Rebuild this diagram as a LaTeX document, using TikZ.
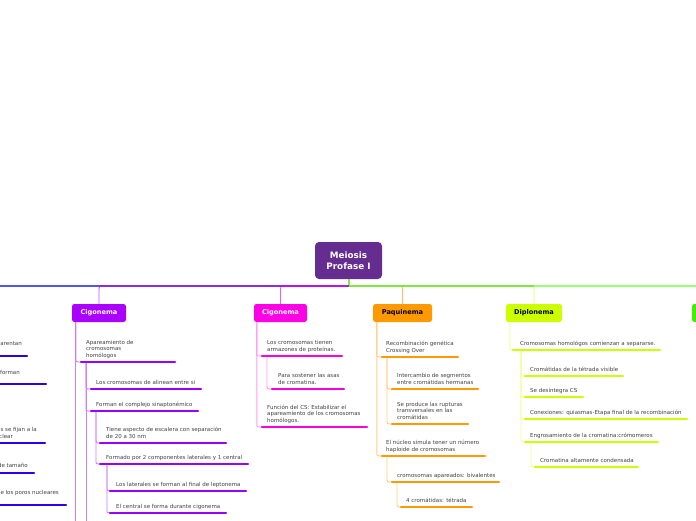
\documentclass[tikz,border=0pt]{standalone}
\usepackage{fontspec}
\setmainfont{DejaVu Sans}
\usetikzlibrary{calc}
\definecolor{txtc}{HTML}{404040}
\definecolor{cPu}{HTML}{9B00FF}\definecolor{cPl}{HTML}{CC80FF}
\definecolor{cMu}{HTML}{FF00DC}\definecolor{cMl}{HTML}{FF99EE}
\definecolor{cOu}{HTML}{FF9900}\definecolor{cOl}{HTML}{FFCC88}
\definecolor{cDu}{HTML}{CCFF00}\definecolor{cDl}{HTML}{EEFF99}
\definecolor{cBu}{HTML}{2A00EE}
\definecolor{fCig}{HTML}{AA00FF}\definecolor{fCigM}{HTML}{FF00E6}
\definecolor{fPaq}{HTML}{FF9900}\definecolor{fDip}{HTML}{CCFF00}
\definecolor{fNext}{HTML}{44EE00}\definecolor{fCen}{HTML}{662D91}
\definecolor{hBlue}{HTML}{4F56F2}\definecolor{hPur}{HTML}{8A2BE8}
\definecolor{hMag}{HTML}{BB11EE}\definecolor{hGrn}{HTML}{80E83C}
\definecolor{hLgr}{HTML}{99FF77}
\definecolor{tPu}{HTML}{BB55FF}\definecolor{tMa}{HTML}{FF55EE}
\definecolor{tOr}{HTML}{FFBB55}\definecolor{tDi}{HTML}{DDFF44}
\newcommand\itemfont{\fontsize{5.5}{6.5}\selectfont}
\newcommand\bnfont{\fontsize{6.6}{8}\selectfont\bfseries}
\newcommand\cnfont{\fontsize{8.8}{11.5}\selectfont\bfseries}
\newcommand\tb[1]{\begin{tabular}{@{}l@{}}#1\end{tabular}}
\newcommand\linkto[4]{\draw[#1] let \p1=($(#2)+(#3,0)$), \p2=(#4) in (\x1,\y1) -- (\x1,{\y2+4pt}) .. controls (\x1,\y2) .. (\x2,\y2);}
\begin{document}
\begin{tikzpicture}[x=1pt,y=-1pt,
  item/.style={anchor=south west, inner sep=0pt, font=\itemfont, text=txtc},
  frag/.style={anchor=base east, inner sep=0pt, font=\itemfont, text=txtc},
  bnode/.style={rounded corners=2.5pt, minimum height=18pt, inner sep=0pt, font=\bnfont},
  ul/.style={line width=2.4pt, line cap=round},
  conn/.style={line width=0.9pt},
  hline/.style={line width=1.6pt}]
\useasboundingbox (0,0) rectangle (696,520);
\clip (0,0) rectangle (696,520);

% central node
\node[fill=fCen, rounded corners=4pt, minimum width=67pt, minimum height=37pt, inner sep=0pt,
      font=\cnfont, text=white, align=center] (cen) at (348.5,260.5) {Meiosis\\Profase I};

% branch nodes
\node[bnode, fill=fCig, text=white, minimum width=54pt] (cig1) at (99,313) {Cigonema};
\node[bnode, fill=fCigM, text=white, minimum width=53pt] (cig2) at (280.5,313) {Cigonema};
\node[bnode, fill=fPaq, text=black, minimum width=59pt] (paq) at (402.5,313) {Paquinema};
\node[bnode, fill=fDip, text=black, minimum width=56pt] (dip) at (534,313) {Diplonema};
\node[bnode, fill=fNext, minimum width=56pt] (nxt) at (720,313) {};

% main horizontal line
\coordinate (h) at (349,286);
\coordinate (hW) at (0,286);
\coordinate (hE) at (696,286);
\draw[conn, tPu] ($(cig1.north |- h)+(5,0)$) .. controls (cig1.north |- h) .. ($(cig1.north |- h)+(0,5)$) -- (cig1.north);
\draw[conn, tMa] ($(cig2.north |- h)+(5,0)$) .. controls (cig2.north |- h) .. ($(cig2.north |- h)+(0,5)$) -- (cig2.north);
\draw[conn, tOr] ($(paq.north |- h)+(-5,0)$) .. controls (paq.north |- h) .. ($(paq.north |- h)+(0,5)$) -- (paq.north);
\draw[conn, tDi] ($(dip.north |- h)+(-5,0)$) .. controls (dip.north |- h) .. ($(dip.north |- h)+(0,5)$) -- (dip.north);
\draw[hline, hGrn] (cen.south -| h) -- (h);
\draw[hline, hBlue] (hW) -- (cig1.north |- h);
\draw[hline, hPur] (cig1.north |- h) -- (cig2.north |- h);
\draw[hline, hMag] (cig2.north |- h) -- (h);
\draw[hline, hGrn] (h) -- (dip.north |- h);
\draw[hline, hLgr] (dip.north |- h) -- (hE);

% ---------- purple Cigonema branch ----------
\coordinate (a1) at (81,362);
\coordinate (a2) at (91,389);
\coordinate (a3) at (91,411);
\coordinate (a4) at (100,443);
\coordinate (a5) at (100,464);
\coordinate (a6) at (110,491);
\coordinate (a7) at (110,513);
\draw[conn, cPl] ($(cig1.south west)+(4,0)$) -- ++(0,220);
\draw[conn, cPl] ($(a1)+(5,0)$) -- ++(0,180);
\linkto{conn, cPl}{cig1.south west}{4}{a1}
\linkto{conn, cPl}{a1}{5}{a2}
\linkto{conn, cPl}{a1}{5}{a3}
\linkto{conn, cPl}{a3}{5}{a4}
\linkto{conn, cPl}{a3}{5}{a5}
\linkto{conn, cPl}{a5}{7}{a6}
\linkto{conn, cPl}{a5}{7}{a7}
\draw[ul, cPu] (a1) -- ++(94,0);
\draw[ul, cPu] (a2) -- ++(110,0);
\draw[ul, cPu] (a3) -- ++(107,0);
\draw[ul, cPu] (a4) -- ++(126,0);
\draw[ul, cPu] (a5) -- ++(148,0);
\draw[ul, cPu] (a6) -- ++(136,0);
\draw[ul, cPu] (a7) -- ++(116,0);
\node[item] (ta1) at ($(a1)+(5,-2.6)$) {\tb{Apareamiento de\\cromosomas\\homólogos}};
\node[item] (ta2) at ($(a2)+(5,-2.6)$) {\tb{Los cromosomas de alinean entre si}};
\node[item] (ta3) at ($(a3)+(5,-2.6)$) {\tb{Forman el complejo sinaptonémico}};
\node[item] (ta4) at ($(a4)+(6,-2.6)$) {\tb{Tiene aspecto de escalera con separación\\de 20 a 30 nm}};
\node[item] (ta5) at ($(a5)+(6,-2.6)$) {\tb{Formado por 2 componentes laterales y 1 central}};
\node[item] (ta6) at ($(a6)+(6,-2.6)$) {\tb{Los laterales se forman al final de leptonema}};
\node[item] (ta7) at ($(a7)+(6,-2.6)$) {\tb{El central se forma durante cigonema}};

% ---------- magenta Cigonema branch ----------
\coordinate (b1) at (262,356);
\coordinate (b2) at (272,389);
\coordinate (b3) at (262,427);
\linkto{conn, cMl}{cig2.south west}{3}{b1}
\linkto{conn, cMl}{b1}{5}{b2}
\linkto{conn, cMl}{cig2.south west}{3}{b3}
\draw[ul, cMu] (b1) -- ++(80,0);
\draw[ul, cMu] (b2) -- ++(72,0);
\draw[ul, cMu] (b3) -- ++(105,0);
\node[item] (tb1) at ($(b1)+(5,-2.6)$) {\tb{Los cromosomas tienen\\armazones de proteínas.}};
\node[item] (tb2) at ($(b2)+(6,-2.6)$) {\tb{Para sostener las asas\\de cromatina.}};
\node[item] (tb3) at ($(b3)+(5,-2.6)$) {\tb{Función del CS: Estabilizar el\\apareamiento de los cromosomas\\homólogos.}};

% ---------- Paquinema branch ----------
\coordinate (c1) at (382,357);
\coordinate (c2) at (392,389);
\coordinate (c3) at (392,424);
\coordinate (c4) at (382,456);
\coordinate (c5) at (392,482);
\coordinate (c6) at (401,507);
\linkto{conn, cOl}{paq.south west}{4}{c1}
\linkto{conn, cOl}{c1}{5}{c2}
\linkto{conn, cOl}{c1}{5}{c3}
\linkto{conn, cOl}{paq.south west}{4}{c4}
\linkto{conn, cOl}{c4}{5}{c5}
\linkto{conn, cOl}{c5}{5}{c6}
\draw[ul, cOu] (c1) -- ++(76,0);
\draw[ul, cOu] (c2) -- ++(86,0);
\draw[ul, cOu] (c3) -- ++(76,0);
\draw[ul, cOu] (c4) -- ++(103,0);
\draw[ul, cOu] (c5) -- ++(107,0);
\draw[ul, cOu] (c6) -- ++(71,0);
\node[item] (tc1) at ($(c1)+(4,-2.6)$) {\tb{Recombinación genética\\Crossing Over}};
\node[item] (tc2) at ($(c2)+(5,-2.6)$) {\tb{Intercambio de segmentos\\entre cromátidas hermanas}};
\node[item] (tc3) at ($(c3)+(5,-2.6)$) {\tb{Se produce las rupturas\\transversales en las\\cromátidas}};
\node[item] (tc4) at ($(c4)+(4,-2.6)$) {\tb{El núcleo simula tener un número\\haploide de cromosomas}};
\node[item] (tc5) at ($(c5)+(5,-2.6)$) {\tb{cromosomas apareados: bivalentes}};
\node[item] (tc6) at ($(c6)+(5,-2.6)$) {\tb{4 cromátidas: tétrada}};

% ---------- Diplonema branch ----------
\coordinate (d1) at (513,350);
\coordinate (d2) at (525,376);
\coordinate (d3) at (525,397);
\coordinate (d4) at (525,419);
\coordinate (d5) at (525,442);
\coordinate (d6) at (535,467);
\linkto{conn, cDl}{dip.south west}{4}{d1}
\linkto{conn, cDl}{d1}{8}{d2}
\linkto{conn, cDl}{d1}{8}{d3}
\linkto{conn, cDl}{d1}{8}{d4}
\linkto{conn, cDl}{d1}{8}{d5}
\linkto{conn, cDl}{d5}{6}{d6}
\draw[ul, cDu] (d1) -- ++(147,0);
\draw[ul, cDu] (d2) -- ++(98,0);
\draw[ul, cDu] (d3) -- ++(58,0);
\draw[ul, cDu] (d4) -- ++(162,0);
\draw[ul, cDu] (d5) -- ++(133,0);
\draw[ul, cDu] (d6) -- ++(103,0);
\node[item] (td1) at ($(d1)+(7,-2.6)$) {\tb{Cromosomas homológos comienzan a separarse.}};
\node[item] (td2) at ($(d2)+(5,-2.6)$) {\tb{Cromátidas de la tétrada visible}};
\node[item] (td3) at ($(d3)+(5,-2.6)$) {\tb{Se desintegra CS}};
\node[item] (td4) at ($(d4)+(5,-2.6)$) {\tb{Conexiones: quiasmas-Etapa final de la recombinación}};
\node[item] (td5) at ($(d5)+(5,-2.6)$) {\tb{Engrosamiento de la cromatina:crómomeros}};
\node[item] (td6) at ($(d6)+(5,-2.6)$) {\tb{Cromatina altamente condensada}};

% ---------- cut-off blue branch at left ----------
\coordinate (e1) at (0,356);
\coordinate (e2) at (0,384);
\coordinate (e3) at (0,443);
\coordinate (e4) at (0,473);
\coordinate (e5) at (0,505);
\draw[ul, cBu] (e1) -- ++(27,0);
\draw[ul, cBu] (e2) -- ++(46,0);
\draw[ul, cBu] (e3) -- ++(45,0);
\draw[ul, cBu] (e4) -- ++(34,0);
\draw[ul, cBu] (e5) -- ++(66,0);
\node[frag] (te1) at (22,345.3) {arentan};
\node[frag] (te2) at (20,374.3) {forman};
\node[frag] (te3) at (37,431.3) {s se fijan a la};
\node[frag] (te3b) at (13,438.3) {clear};
\node[frag] (te4) at (28,467.3) {de tamaño};
\node[frag] (te5) at (59,494.3) {e los poros nucleares};
\end{tikzpicture}
\end{document}
